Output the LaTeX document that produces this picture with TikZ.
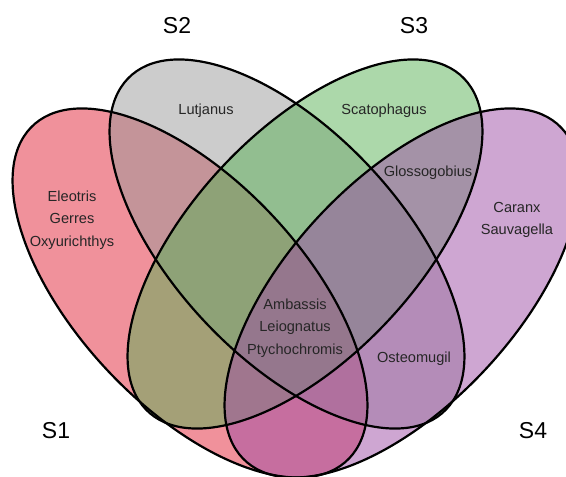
\documentclass[tikz,border=0pt]{standalone}
\usepackage{fontspec}
\setmainfont{Liberation Sans}
\usepackage{tikz}
\definecolor{sonecol}{RGB}{225,35,55}
\definecolor{stwocol}{RGB}{153,153,153}
\definecolor{sthreecol}{RGB}{89,177,85}
\definecolor{sfourcol}{RGB}{157,77,165}
\tikzset{
x=1pt, y=-1pt, % pixel-like coordinates, y goes down
setfill/.style={fill opacity=0.5}, % every set is half transparent
setline/.style={draw=black, line width=2.2pt}, % outline of a set
setlabel/.style={font=\fontsize{23}{23}\selectfont}, % S1 ... S4
taxa/.style={font=\fontsize{14.6}{22.5}\selectfont, text=black!85, align=center}, % names inside the regions
}

\begin{document}
\begin{tikzpicture}
    \useasboundingbox (0,0) rectangle (566,477);

    % fills first
    \fill[setfill, sonecol, shift={(190,293)}, yscale=1.04, rotate=135] (0,0) ellipse [x radius=225pt, y radius=111pt];
    \fill[setfill, stwocol, shift={(287,244)}, yscale=1.04, rotate=135] (0,0) ellipse [x radius=225pt, y radius=111pt];
    \fill[setfill, sthreecol, shift={(305,244)}, yscale=1.04, rotate=45] (0,0) ellipse [x radius=225pt, y radius=111pt];
    \fill[setfill, sfourcol, shift={(402,293)}, yscale=1.04, rotate=45] (0,0) ellipse [x radius=225pt, y radius=111pt];

    % then the outlines
    \draw[setline, shift={(190,293)}, yscale=1.04, rotate=135] (0,0) ellipse [x radius=225pt, y radius=111pt];
    \draw[setline, shift={(287,244)}, yscale=1.04, rotate=135] (0,0) ellipse [x radius=225pt, y radius=111pt];
    \draw[setline, shift={(305,244)}, yscale=1.04, rotate=45] (0,0) ellipse [x radius=225pt, y radius=111pt];
    \draw[setline, shift={(402,293)}, yscale=1.04, rotate=45] (0,0) ellipse [x radius=225pt, y radius=111pt];

    \node[setlabel] (s1) at (56,431) {S1};
    \node[setlabel] (s2) at (177,26) {S2};
    \node[setlabel] (s3) at (414,26) {S3};
    \node[setlabel] (s4) at (533,431) {S4};

    \node[taxa] (only1) at (72,220) {Eleotris\\Gerres\\Oxyurichthys};
    \node[taxa] (only2) at (206,111) {Lutjanus};
    \node[taxa] (only3) at (384,111) {Scatophagus};
    \node[taxa] (only4) at (517,220) {Caranx\\Sauvagella};
    \node[taxa] (both34) at (428,173) {Glossogobius};
    \node[taxa] (all) at (295,328) {Ambassis\\Leiognatus\\Ptychochromis};
    \node[taxa] (three) at (414,359) {Osteomugil};
\end{tikzpicture}
\end{document}
